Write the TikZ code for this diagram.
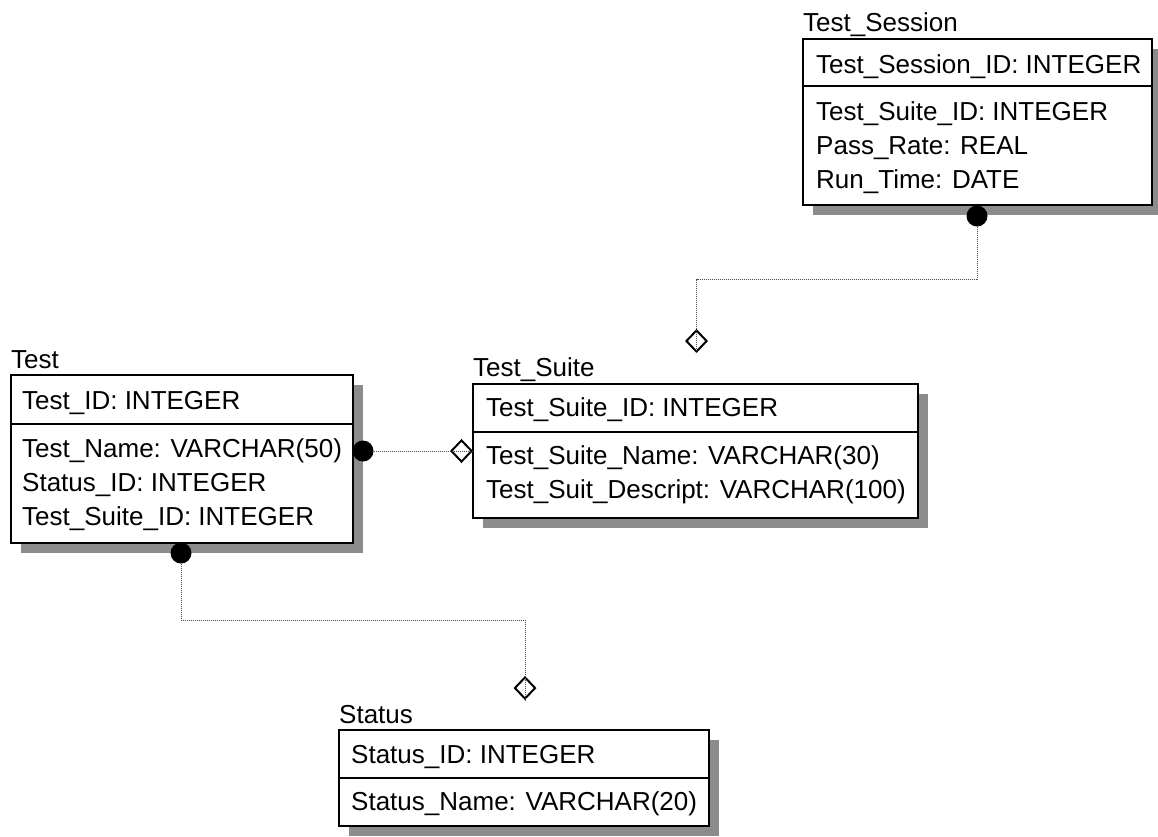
\documentclass[tikz,border=0pt]{standalone}
\usepackage{fontspec}
\setmainfont{Liberation Sans}
\usetikzlibrary{shapes.geometric,shadows}
\begin{document}
\begin{tikzpicture}[x=1pt,y=-1pt,
  every node/.style={font=\fontsize{26}{30}\selectfont},
  entity/.style={draw, line width=2pt, fill=white, inner sep=0pt, anchor=north west,
    drop shadow={shadow xshift=10pt, shadow yshift=-10pt, fill=black!45, opacity=1}},
  sepline/.style={line width=2pt},
  lbl/.style={anchor=base west, inner sep=0pt},
  onecirc/.style={circle, fill=black, inner sep=0pt, minimum size=21pt},
  manydiam/.style={diamond, draw, line width=2pt, inner sep=0pt, minimum width=21pt, minimum height=22pt},
  rel/.style={line width=1pt, black!70, dash pattern=on 1pt off 1pt}
]
\useasboundingbox (0,0) rectangle (1158,836);

% ---- Test_Session ----
\node[entity, minimum width=349pt, minimum height=166pt] (session) at (802,38) {};
\draw[sepline] ([yshift=-48pt]session.north west) -- ([yshift=-48pt]session.north east);
\node[lbl] (sessionT) at ([xshift=1pt,yshift=7pt]session.north west) {Test\_Session};
\node[lbl] (session1) at ([xshift=14pt,yshift=-35pt]session.north west) {Test\_Session\_ID: INTEGER};
\node[lbl] (session2) at ([xshift=14pt,yshift=-82pt]session.north west) {Test\_Suite\_ID: INTEGER};
\node[lbl] (session3) at ([xshift=14pt,yshift=-116pt]session.north west) {Pass\_Rate: REAL};
\node[lbl] (session4) at ([xshift=14pt,yshift=-150pt]session.north west) {Run\_Time: DATE};

% ---- Test_Suite ----
\node[entity, minimum width=445pt, minimum height=134pt] (suite) at (472,383) {};
\draw[sepline] ([yshift=-49pt]suite.north west) -- ([yshift=-49pt]suite.north east);
\node[lbl] (suiteT) at ([xshift=1pt,yshift=7pt]suite.north west) {Test\_Suite};
\node[lbl] (suite1) at ([xshift=14pt,yshift=-33pt]suite.north west) {Test\_Suite\_ID: INTEGER};
\node[lbl] (suite2) at ([xshift=14pt,yshift=-81pt]suite.north west) {Test\_Suite\_Name: VARCHAR(30)};
\node[lbl] (suite3) at ([xshift=14pt,yshift=-115pt]suite.north west) {Test\_Suit\_Descript: VARCHAR(100)};

% ---- Test ----
\node[entity, minimum width=342pt, minimum height=168pt] (test) at (10,374) {};
\draw[sepline] ([yshift=-50pt]test.north west) -- ([yshift=-50pt]test.north east);
\node[lbl] (testT) at ([xshift=1pt,yshift=6pt]test.north west) {Test};
\node[lbl] (test1) at ([xshift=12pt,yshift=-35pt]test.north west) {Test\_ID: INTEGER};
\node[lbl] (test2) at ([xshift=12pt,yshift=-83pt]test.north west) {Test\_Name: VARCHAR(50)};
\node[lbl] (test3) at ([xshift=12pt,yshift=-117pt]test.north west) {Status\_ID: INTEGER};
\node[lbl] (test4) at ([xshift=12pt,yshift=-151pt]test.north west) {Test\_Suite\_ID: INTEGER};

% ---- Status ----
\node[entity, minimum width=370pt, minimum height=96pt] (status) at (338,729) {};
\draw[sepline] ([yshift=-49pt]status.north west) -- ([yshift=-49pt]status.north east);
\node[lbl] (statusT) at ([xshift=1pt,yshift=6pt]status.north west) {Status};
\node[lbl] (status1) at ([xshift=13pt,yshift=-34pt]status.north west) {Status\_ID: INTEGER};
\node[lbl] (status2) at ([xshift=13pt,yshift=-81pt]status.north west) {Status\_Name: VARCHAR(20)};

% ---- relationship ends ----
\node[onecirc] (c1) at (977,216) {};
\node[manydiam] (d1) at (696.5,341) {};
\coordinate (k1) at (696.5,279);

\node[onecirc] (c2) at (363,451) {};
\node[manydiam] (d2) at (461.5,451) {};

\node[onecirc] (c3) at (181,553) {};
\node[manydiam] (d3) at (525,688) {};
\coordinate (k3) at (525,620);

% ---- connectors ----
\draw[rel] (c1.south) |- (k1) -- (d1.south);
\draw[rel] (c2.east) -- (d2.east);
\draw[rel] (c3.south) |- (k3) -- (d3.south);
\end{tikzpicture}
\end{document}
